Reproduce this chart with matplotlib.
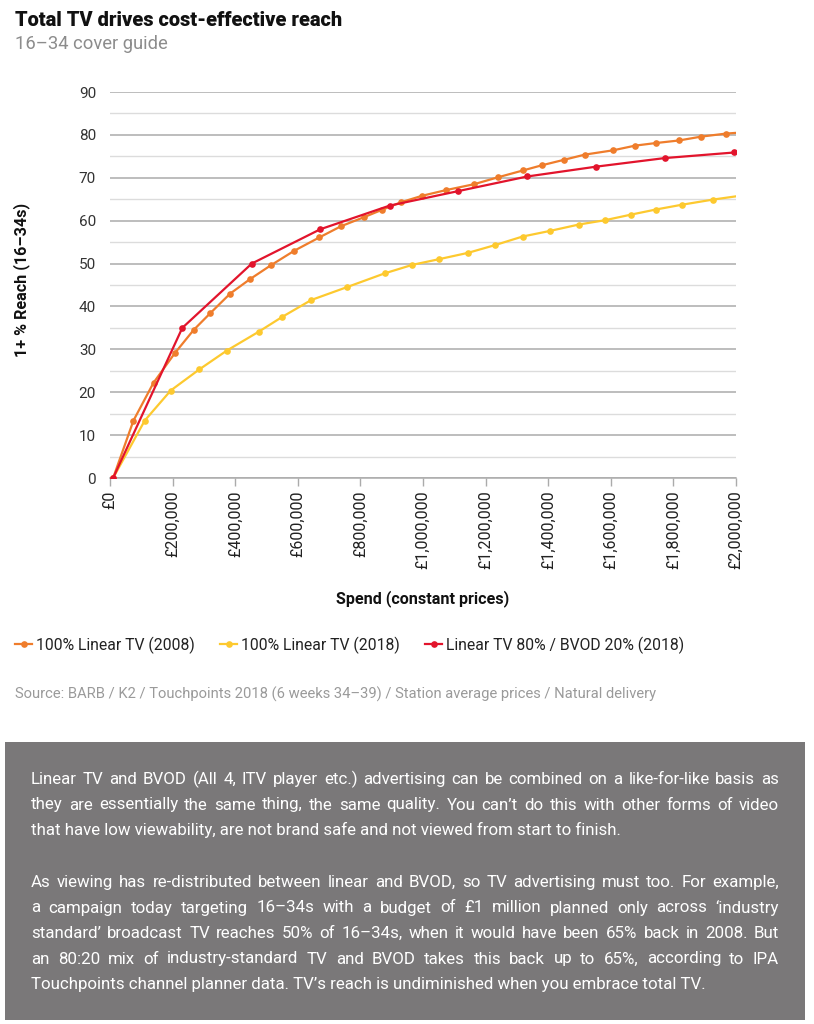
import matplotlib
matplotlib.use('Agg')
import matplotlib.pyplot as plt
from matplotlib.patches import Rectangle
from matplotlib.ticker import MultipleLocator

# ---------------- data ----------------
spend_2008 = [10000, 75000, 139000, 207000, 267000, 320000, 384000, 448000, 514000, 589000,
              669000, 738000, 811000, 868000, 930000, 997000, 1072000, 1163000, 1239000, 1319000,
              1379000, 1451000, 1517000, 1607000, 1678000, 1744000, 1818000, 1889000, 1968000, 2042000]
reach_2008 = [0, 13.4, 22.2, 29.1, 34.5, 38.4, 43.0, 46.4, 49.6, 53.0,
              56.1, 58.7, 60.8, 62.5, 64.3, 65.8, 67.1, 68.5, 70.1, 71.7,
              72.9, 74.2, 75.4, 76.4, 77.5, 78.1, 78.7, 79.6, 80.3, 80.7]

spend_2018 = [10000, 111000, 194000, 285000, 373000, 475000, 551000, 643000, 757000, 877000,
              966000, 1050000, 1144000, 1230000, 1318000, 1405000, 1498000, 1581000, 1664000, 1744000,
              1826000, 1925000, 2032000]
reach_2018 = [0, 13.4, 20.4, 25.3, 29.7, 34.1, 37.6, 41.5, 44.5, 47.7,
              49.7, 51.0, 52.5, 54.3, 56.3, 57.6, 59.1, 60.1, 61.4, 62.6,
              63.7, 64.9, 66.0]

spend_mix = [10000, 231000, 453000, 672000, 893000, 1113000, 1333000, 1554000, 1773000, 1995000]
reach_mix = [0, 35.0, 50.0, 58.0, 63.5, 66.9, 70.3, 72.6, 74.6, 75.9]

series_labels = ["100% Linear TV (2008)", "100% Linear TV (2018)", "Linear TV 80% / BVOD 20% (2018)"]
x_ticks = [0, 200000, 400000, 600000, 800000, 1000000, 1200000, 1400000, 1600000, 1800000, 2000000]
x_tick_labels = ["£0", "£200,000", "£400,000", "£600,000", "£800,000", "£1,000,000",
                 "£1,200,000", "£1,400,000", "£1,600,000", "£1,800,000", "£2,000,000"]
y_ticks = [0, 10, 20, 30, 40, 50, 60, 70, 80, 90]

title = "Total TV drives cost-effective reach"
subtitle = "16–34 cover guide"
x_label = "Spend (constant prices)"
y_label = "1+ % Reach (16–34s)"
source = "Source: BARB / K2 / Touchpoints 2018 (6 weeks 34–39) / Station average prices / Natural delivery"

para1 = ["Linear TV and BVOD (All 4, ITV player etc.) advertising can be combined on a like-for-like basis as",
         "they are essentially the same thing, the same quality. You can’t do this with other forms of video",
         "that have low viewability, are not brand safe and not viewed from start to finish."]
para2 = ["As viewing has re-distributed between linear and BVOD, so TV advertising must too. For example,",
         "a campaign today targeting 16–34s with a budget of £1 million planned only across ‘industry",
         "standard’ broadcast TV reaches 50% of 16–34s, when it would have been 65% back in 2008. But",
         "an 80:20 mix of industry-standard TV and BVOD takes this back up to 65%, according to IPA",
         "Touchpoints channel planner data. TV’s reach is undiminished when you embrace total TV."]

# ---------------- style ----------------
plt.rcParams['font.family'] = ['Roboto', 'DejaVu Sans']
C_ORANGE = '#EF7D2C'
C_YELLOW = '#FDC92F'
C_RED = '#E2142C'

W, H = 814, 1024
fig = plt.figure(figsize=(W / 100, H / 100), dpi=100)


def fx(px):
    return px / W


def fy(py):
    return 1 - py / H


ax = fig.add_axes([fx(110), fy(478), fx(736) - fx(110), fy(92) - fy(478)])

line_kw = dict(lw=1.6, marker='o', markersize=4.8, markeredgewidth=0)
l1, = ax.plot(spend_2008, reach_2008, color=C_ORANGE, label=series_labels[0], zorder=3, **line_kw)
l2, = ax.plot(spend_2018, reach_2018, color=C_YELLOW, label=series_labels[1], zorder=2, **line_kw)
l3, = ax.plot(spend_mix, reach_mix, color=C_RED, label=series_labels[2], zorder=4, **line_kw)

ax.set_xlim(0, 2000000)
ax.set_ylim(0, 90)
ax.set_yticks(y_ticks)
ax.set_yticklabels([str(v) for v in y_ticks])
ax.yaxis.set_minor_locator(MultipleLocator(5))
ax.set_xticks(x_ticks)
ax.set_xticklabels(x_tick_labels, rotation=90)

ax.grid(which='major', axis='y', color='#ababab', lw=1.1, zorder=0)
ax.grid(which='minor', axis='y', color='#dcdcdc', lw=1.0, zorder=0)
ax.set_axisbelow(True)
for s in ['top', 'right', 'left']:
    ax.spines[s].set_visible(False)
ax.spines['bottom'].set_color('#ababab')
ax.spines['bottom'].set_linewidth(1.1)
ax.tick_params(axis='y', which='both', length=0, pad=10, labelsize=11, labelcolor='#333333')
ax.tick_params(axis='x', which='major', length=6, width=1, color='#ababab', pad=3,
               labelsize=11.5, labelcolor='#222222')
ax.set_facecolor('white')

ax.set_xlabel(x_label, fontsize=11.6, fontweight='bold', color='#111111')
ax.xaxis.set_label_coords(0.5, (478 - 590) / 386)
fig.text(fx(22), fy(280), y_label, rotation=90, ha='center', va='center',
         fontsize=11.6, fontweight='bold', color='#111111')

# title
fig.text(fx(15), fy(26), title, fontsize=14.4, fontweight='heavy', color='#111111', va='baseline')
fig.text(fx(15), fy(49), subtitle, fontsize=13.2, color='#8c8c8c', va='baseline')

# legend
fig.legend(handles=[l1, l2, l3], labels=series_labels, loc='center left',
           bbox_to_anchor=(fx(15), fy(645)), ncol=3, frameon=False, fontsize=11.3,
           handlelength=1.1, handletextpad=0.25, columnspacing=1.6, borderaxespad=0, borderpad=0,
           labelcolor='#222222')

fig.text(fx(15), fy(694), source, fontsize=10.6, color='#9a9a9a', va='center')

# text box
fig.patches.append(Rectangle((fx(5), fy(1020)), fx(805) - fx(5), fy(742) - fy(1020),
                             transform=fig.transFigure, facecolor='#7a7879', edgecolor='none', zorder=0))

renderer = fig.canvas.get_renderer()
BODY_FS = 12.2
X0, X1 = 31, 779
BASE_OFF = 5


def place_line(text, y, justify):
    yb = fy(y + BASE_OFF)
    if not justify:
        fig.text(fx(X0), yb, text, fontsize=BODY_FS, color='white', va='baseline')
        return
    words = text.split(' ')
    widths = []
    for w in words:
        t = fig.text(0, 0, w, fontsize=BODY_FS)
        widths.append(t.get_window_extent(renderer=renderer).width)
        t.remove()
    gap = (X1 - X0 - sum(widths)) / (len(words) - 1)
    x = X0
    for w, wd in zip(words, widths):
        fig.text(fx(x), yb, w, fontsize=BODY_FS, color='white', va='baseline')
        x += wd + gap


ys1 = [779, 804.5, 830]
ys2 = [882, 907.5, 933, 958.5, 984]
for i, (ln, y) in enumerate(zip(para1, ys1)):
    place_line(ln, y, i < len(para1) - 1)
for i, (ln, y) in enumerate(zip(para2, ys2)):
    place_line(ln, y, i < len(para2) - 1)

fig.savefig('out.png', dpi=100, facecolor='white')
